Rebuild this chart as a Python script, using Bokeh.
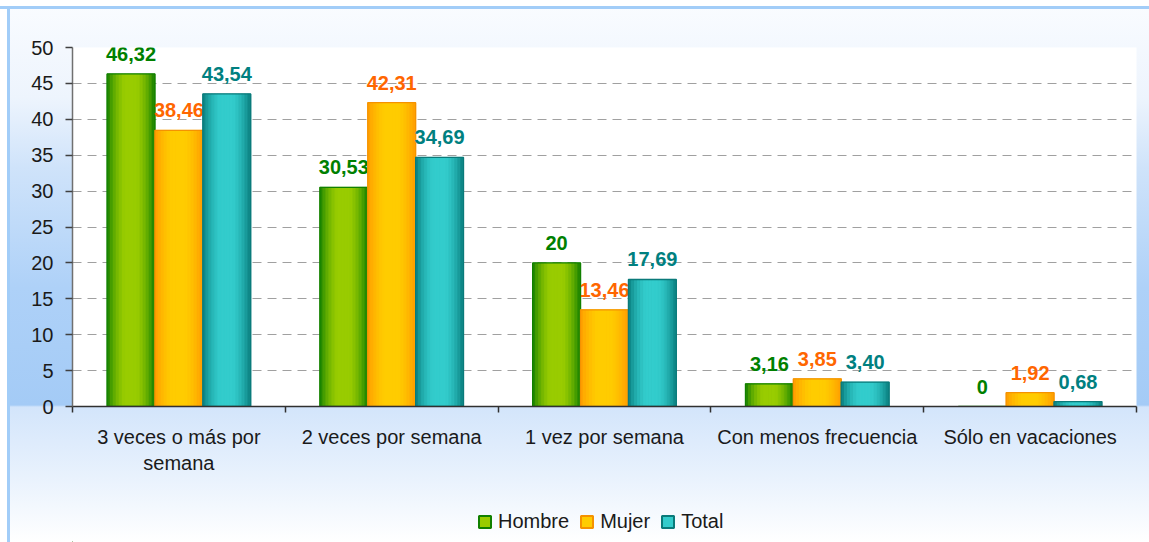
import math
from bokeh.plotting import figure
from bokeh.layouts import column
from bokeh.models import Range1d, FixedTicker, Legend, LegendItem
from bokeh.core.properties import value
from bokeh.embed import file_html
from bokeh.resources import INLINE

# ---- data ----
categories = ["3 veces o más por\nsemana", "2 veces por semana", "1 vez por semana",
              "Con menos frecuencia", "Sólo en vacaciones"]
hombre = [46.32, 30.53, 20, 3.16, 0]
mujer = [38.46, 42.31, 13.46, 3.85, 1.92]
total = [43.54, 34.69, 17.69, 3.40, 0.68]
series_names = ["Hombre", "Mujer", "Total"]
y_ticks = [0, 5, 10, 15, 20, 25, 30, 35, 40, 45, 50]

FONT = "Liberation Sans"

def fmt(v):
    if float(v).is_integer():
        return str(int(v))
    return f"{v:.2f}".replace(".", ",")

def hex2rgb(h):
    h = h.lstrip("#")
    return tuple(int(h[i:i + 2], 16) for i in (0, 2, 4))

def mix(a, b, f):
    ra, rb = hex2rgb(a), hex2rgb(b)
    return "#%02x%02x%02x" % tuple(int(round(ra[i] + (rb[i] - ra[i]) * f)) for i in range(3))

styles = [
    # edge, center, outline, label color
    ("#0f7d00", "#99cc00", "#118000", "#008000"),
    ("#ff9900", "#ffcc00", "#f59200", "#ff6600"),
    ("#087a7a", "#33cccc", "#0a7a7a", "#008080"),
]

p = figure(width=1149, height=506, x_range=Range1d(0, 5), y_range=Range1d(0, 50),
           output_backend="svg", toolbar_location=None,
           min_border_left=72, min_border_right=13, min_border_top=47, min_border_bottom=100)

p.background_fill_color = "white"
p.border_fill_color = None
p.outline_line_color = None

BAR_W = 0.225
offsets = [-BAR_W, 0.0, BAR_W]
N = 16
for s, (name, vals) in enumerate(zip(series_names, [hombre, mujer, total])):
    edge, center, outline, lab = styles[s]
    xs = [i + 0.5 + offsets[s] for i in range(len(categories))]
    p.vbar(x=xs, top=vals, width=BAR_W, fill_color=center, line_color=None)
    for k in range(N):
        t = (k + 0.5) / N
        f = min(1.0, math.sin(math.pi * t) ** 0.8 * 1.08)
        c = mix(edge, center, f)
        sx = [x - BAR_W / 2 + t * BAR_W for x in xs]
        p.vbar(x=sx, top=vals, width=BAR_W / N, fill_color=c, line_color=c, line_width=0.6)
    p.vbar(x=xs, top=vals, width=BAR_W, fill_color=None, line_color=outline, line_width=1.3)
    p.text(x=xs, y=vals, text=[fmt(v) for v in vals], text_font=value(FONT),
           text_font_style="bold", text_font_size="20px", text_color=lab,
           text_align="center", text_baseline="alphabetic", y_offset=-20)

# axes
p.xaxis.ticker = FixedTicker(ticks=[i + 0.5 for i in range(len(categories))],
                             minor_ticks=list(range(len(categories) + 1)))
p.xaxis.major_label_overrides = {i + 0.5: c for i, c in enumerate(categories)}
p.xaxis.major_tick_line_color = None
p.xaxis.major_tick_out = 0
p.xaxis.major_tick_in = 0
p.xaxis.minor_tick_line_color = "#303030"
p.xaxis.minor_tick_out = 6
p.xaxis.minor_tick_in = 0
p.xaxis.minor_tick_line_width = 1.5
p.xaxis.axis_line_color = "#303030"
p.xaxis.axis_line_width = 1.5
p.xaxis.major_label_standoff = 13
p.xaxis.major_label_text_font = FONT
p.xaxis.major_label_text_font_size = "20px"
p.xaxis.major_label_text_color = "#1a1a1a"

p.yaxis.ticker = FixedTicker(ticks=y_ticks, minor_ticks=[])
p.yaxis.major_tick_out = 7
p.yaxis.major_tick_in = 0
p.yaxis.major_tick_line_color = "#404040"
p.yaxis.major_tick_line_width = 1.5
p.yaxis.minor_tick_line_color = None
p.yaxis.axis_line_color = "#707070"
p.yaxis.axis_line_width = 1.5
p.yaxis.major_label_standoff = 12
p.yaxis.major_label_text_font = FONT
p.yaxis.major_label_text_font_size = "20px"
p.yaxis.major_label_text_color = "#1a1a1a"

p.xgrid.visible = False
p.ygrid.ticker = FixedTicker(ticks=y_ticks[1:], minor_ticks=[])
p.ygrid.grid_line_color = "#a0a0a0"
p.ygrid.grid_line_dash = "9 6"
p.ygrid.grid_line_width = 1

# ---- legend strip ----
q = figure(width=1149, height=36, x_range=Range1d(0, 1), y_range=Range1d(0, 1),
           output_backend="svg", toolbar_location=None,
           x_axis_location=None, y_axis_location=None,
           min_border_left=0, min_border_right=0, min_border_top=0, min_border_bottom=0)
q.background_fill_color = None
q.border_fill_color = None
q.outline_line_color = None
q.grid.visible = False
items = []
for s, name in enumerate(series_names):
    edge, center, outline, lab = styles[s]
    # proxy renderer kept outside the visible ranges: only its legend swatch shows
    r = q.vbar(x=[-5], bottom=[-5], top=[-4], width=0.1, fill_color=center,
               line_color=outline, line_width=2)
    items.append(LegendItem(label=name, renderers=[r]))
legend = Legend(items=items, orientation="horizontal", location=(405, 9),
                padding=0, margin=0, border_line_color=None, background_fill_alpha=0,
                glyph_width=15, glyph_height=15, label_standoff=6, spacing=10,
                label_text_font=FONT, label_text_font_size="20px", label_text_color="#1a1a1a")
q.add_layout(legend)

layout = column(p, q, spacing=0)
layout.styles = {
    "background-image": (
        "linear-gradient(to bottom, #ffffff 0px, #ffffff 6px, #a2cdf8 6px, #a2cdf8 9px, rgba(255,255,255,0) 9px), "
        "linear-gradient(to right, #ffffff 0px, #ffffff 7px, #a2cdf8 7px, #a2cdf8 10px, rgba(255,255,255,0) 10px), "
        "linear-gradient(to bottom, #fafcff 0px, #edf4fd 98px, #cfe3fa 168px, #aed1f8 288px, "
        "#a4cbf6 405px, #d3e5fb 407px, #e9f2fd 478px, #ffffff 542px)"
    ),
}

open("out.html", "w").write(file_html(layout, INLINE))
